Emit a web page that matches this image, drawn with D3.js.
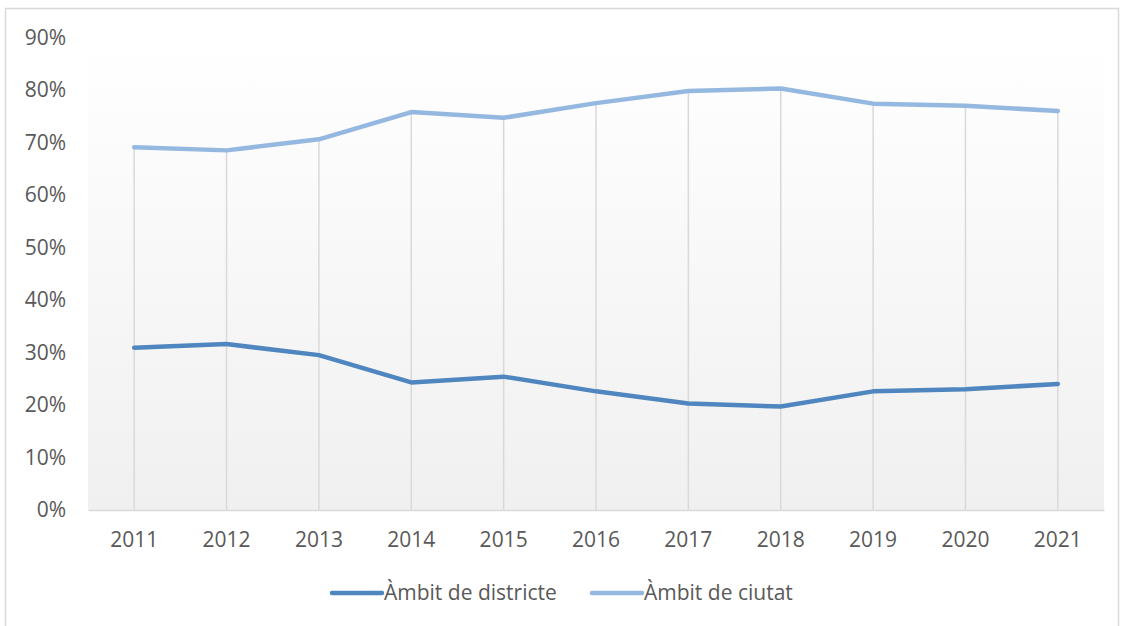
<!DOCTYPE html>
<html><head><meta charset="utf-8">
<script src="https://cdn.jsdelivr.net/npm/d3@7"></script>
<style>body{margin:0;background:#fff;} svg{display:block;}</style>
</head><body>
<svg id="c" width="1126" height="626"></svg>
<script>
const years = ["2011","2012","2013","2014","2015","2016","2017","2018","2019","2020","2021"];
const districte = [30.9,31.6,29.5,24.3,25.4,22.6,20.3,19.7,22.6,23.0,24.0];
const ciutat = [69.1,68.5,70.6,75.8,74.7,77.5,79.8,80.3,77.4,77.0,76.0];
const yTicks = [0,10,20,30,40,50,60,70,80,90];
const seriesNames = ["Àmbit de districte","Àmbit de ciutat"];
const colors = ["#4f86bf","#95b8e0"];

const svg = d3.select("#c");
const font = "'Open Sans', sans-serif";
const fs = 21;
const L = 88, R = 1104, T = 37.5, B = 510;

svg.append("rect").attr("x",5.5).attr("y",8.5).attr("width",1113).attr("height",640)
  .attr("fill","#fff").attr("stroke","#d9d9d9").attr("stroke-width",1.5);

const defs = svg.append("defs");
const g = defs.append("linearGradient").attr("id","bg").attr("x1",0).attr("y1",0).attr("x2",0).attr("y2",1);
g.append("stop").attr("offset","0%").attr("stop-color","#ffffff");
g.append("stop").attr("offset","100%").attr("stop-color","#f0f0f0");

const x = d3.scaleBand().domain(years).range([L,R]);
const y = d3.scaleLinear().domain([0,90]).range([B,T]);

svg.append("rect").attr("x",L).attr("y",T).attr("width",R-L).attr("height",B-T).attr("fill","url(#bg)");

// drop lines
svg.append("g").selectAll("line").data(years).join("line")
  .attr("x1",d=>x(d)+x.bandwidth()/2).attr("x2",d=>x(d)+x.bandwidth()/2)
  .attr("y1",(d,i)=>y(Math.max(ciutat[i],districte[i]))).attr("y2",B)
  .attr("stroke","#d9d9d9").attr("stroke-width",1.5);

// axes
const xa = svg.append("g").attr("transform",`translate(0,${B})`)
  .call(d3.axisBottom(x).tickSize(0).tickPadding(22));
xa.select(".domain").attr("stroke","#d9d9d9").attr("stroke-width",1.5);
xa.selectAll("text").attr("font-family",font).attr("font-size",fs).attr("fill","#595959");

const ya = svg.append("g").attr("transform",`translate(${L},0)`)
  .call(d3.axisLeft(y).tickValues(yTicks).tickSize(0).tickPadding(22).tickFormat(d=>d+"%"));
ya.select(".domain").remove();
ya.selectAll("text").attr("font-family",font).attr("font-size",fs).attr("fill","#595959");

const line = d3.line().x((d,i)=>x(years[i])+x.bandwidth()/2).y(d=>y(d));
[districte,ciutat].forEach((s,k)=>{
  svg.append("path").datum(s).attr("d",line).attr("fill","none")
    .attr("stroke",colors[k]).attr("stroke-width",4.5).attr("stroke-linecap","round").attr("stroke-linejoin","round");
});

// legend
const leg = [{x:332,name:seriesNames[0],c:colors[0]},{x:592,name:seriesNames[1],c:colors[1]}];
const lg = svg.append("g").selectAll("g").data(leg).join("g").attr("transform",d=>`translate(${d.x},593)`);
lg.append("line").attr("x1",0).attr("x2",50).attr("stroke",d=>d.c).attr("stroke-width",4.5).attr("stroke-linecap","round");
lg.append("text").attr("x",52).attr("y",0).attr("dy","0.35em").text(d=>d.name)
  .attr("font-family",font).attr("font-size",fs).attr("fill","#595959");
</script>
</body></html>
